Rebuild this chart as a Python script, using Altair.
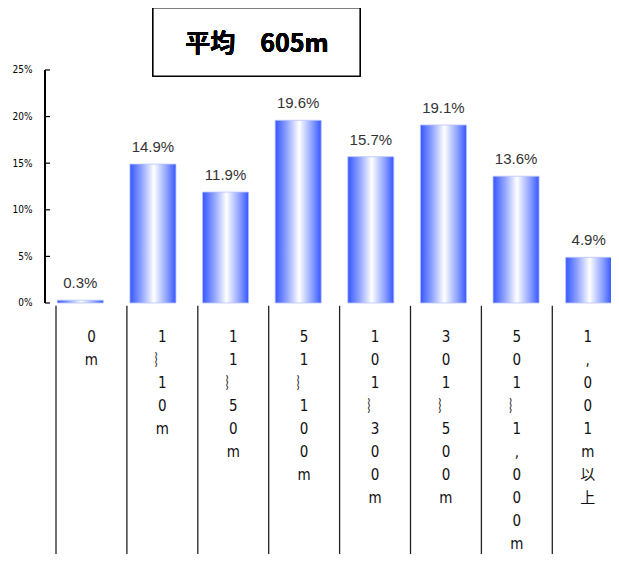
import altair as alt
import pandas as pd

categories = ["0m", "1~10m", "11~50m", "51~100m", "101~300m", "301~500m", "501~1,000m", "1,001m以上"]
values = [0.3, 14.9, 11.9, 19.6, 15.7, 19.1, 13.6, 4.9]
value_labels = ["0.3%", "14.9%", "11.9%", "19.6%", "15.7%", "19.1%", "13.6%", "4.9%"]
vertical_labels = [
    ["0", "m"],
    ["1", "︴", "1", "0", "m"],
    ["1", "1", "︴", "5", "0", "m"],
    ["5", "1", "︴", "1", "0", "0", "m"],
    ["1", "0", "1", "︴", "3", "0", "0", "m"],
    ["3", "0", "1", "︴", "5", "0", "0", "m"],
    ["5", "0", "1", "︴", "1", ",", "0", "0", "0", "m"],
    ["1", ",", "0", "0", "1", "m", "以", "上"],
]
y_ticks = [0, 5, 10, 15, 20, 25]
title_text = "平均　605m"

W, H = 567, 546
YDOM = [-26.93, 31.65]

df = pd.DataFrame({"cat": categories, "val": values, "lab": value_labels})
ydf = pd.DataFrame({"t": y_ticks})
sep_df = pd.DataFrame({"i": list(range(len(categories) + 1))})
lab_df = pd.DataFrame({
    "pos": [i + 0.5 for i in range(len(categories))],
    "txt": ["\n".join(v) for v in vertical_labels],
})

yscale = alt.Scale(domain=YDOM, nice=False, zero=False)
xband = alt.Scale(domain=categories, range=[0, 581], paddingInner=0.366, paddingOuter=0.183)

grad = alt.Gradient(
    gradient="linear", x1=0, x2=1, y1=0, y2=0,
    stops=[
        alt.GradientStop(color="#3656ff", offset=0),
        alt.GradientStop(color="#8ea2ff", offset=0.25),
        alt.GradientStop(color="#ffffff", offset=0.52),
        alt.GradientStop(color="#8ea2ff", offset=0.8),
        alt.GradientStop(color="#3656ff", offset=1),
    ],
)

bars = alt.Chart(df).mark_bar(color=grad, stroke="#b8c4ff", strokeWidth=0.8).encode(
    x=alt.X("cat:N", scale=xband, sort=categories, axis=None),
    y=alt.Y("val:Q", scale=yscale, axis=alt.Axis(
        values=y_ticks, domain=False, ticks=False, grid=False, title=None,
        labelExpr="datum.value + '%'", labelPadding=12, labelFontSize=10,
        labelFont="Liberation Sans Narrow, DejaVu Sans Condensed, sans-serif",
        labelColor="#000000")),
    y2=alt.datum(0),
)

texts = alt.Chart(df).mark_text(
    baseline="alphabetic", dy=-12, fontSize=15, color="#333333",
    font="Liberation Sans, Arial, sans-serif",
).encode(
    x=alt.X("cat:N", scale=xband, sort=categories, axis=None),
    y=alt.Y("val:Q", scale=yscale),
    text="lab:N",
)

axis_line = alt.Chart(ydf).mark_rule(color="#000000", strokeWidth=1.2).encode(
    x=alt.value(1), y=alt.datum(0, scale=yscale), y2=alt.datum(25),
)
tick_marks = alt.Chart(ydf).mark_rule(color="#000000", strokeWidth=1.2).encode(
    x=alt.value(1), x2=alt.value(6), y=alt.Y("t:Q", scale=yscale),
)

xq = alt.Scale(domain=[-12 / 70.9, (W - 12) / 70.9], nice=False, zero=False)
seps = alt.Chart(sep_df).mark_rule(color="#222222", strokeWidth=1.3).encode(
    x=alt.X("i:Q", scale=xq, axis=None),
    y=alt.datum(-0.3, scale=yscale), y2=alt.datum(YDOM[0]),
)
vlabels = alt.Chart(lab_df).mark_text(
    baseline="top", lineBreak="\n", lineHeight=23.0, fontSize=15, color="#111111",
    font="Liberation Sans Narrow, DejaVu Sans Condensed, Noto Sans CJK JP, sans-serif",
).encode(
    x=alt.X("pos:Q", scale=xq, axis=None),
    y=alt.datum(-2.85, scale=yscale),
    text="txt:N",
)

box = alt.Chart(ydf).mark_rect(fill="#ffffff", stroke="#000000", strokeWidth=1.2).encode(
    x=alt.value(109), x2=alt.value(316), y=alt.value(0), y2=alt.value(68),
)
title = alt.Chart(ydf).mark_text(
    fontSize=25, fontWeight="bold", color="#000000", font="Noto Sans CJK JP, sans-serif",
).encode(x=alt.value(213), y=alt.value(36), text=alt.value(title_text))

main = alt.layer(bars, texts, axis_line, tick_marks, box, title)
table = alt.layer(seps, vlabels)

chart = alt.layer(main, table).resolve_scale(x="independent").properties(
    width=W, height=H,
    background="#ffffff",
    autosize=alt.AutoSizeParams(type="none"),
    padding={"left": 36, "top": 0, "right": 0, "bottom": 0},
).configure_view(strokeWidth=0, stroke="transparent")

chart.save("out.html", embed_options={"renderer": "svg", "actions": False})
